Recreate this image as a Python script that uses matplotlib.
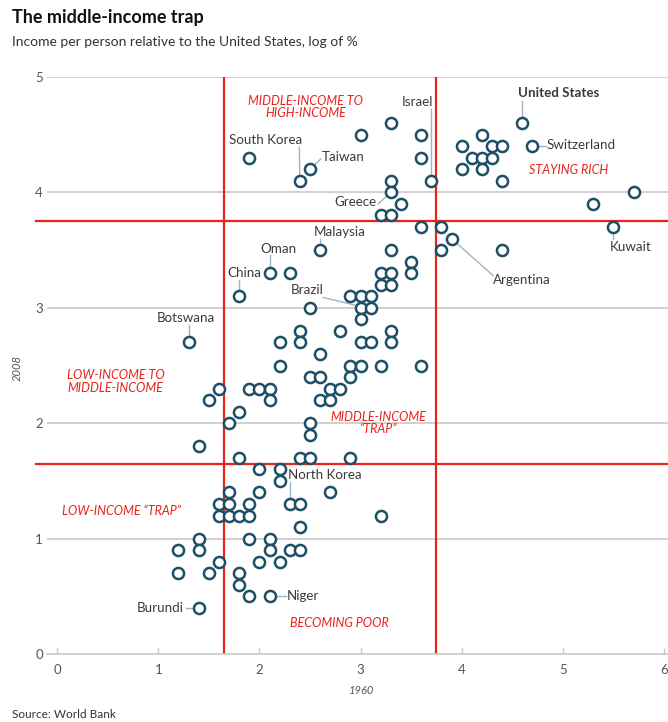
import matplotlib
matplotlib.use('Agg')
import matplotlib.pyplot as plt

# income per person relative to the US, log of %: 1960 (x) vs 2008 (y)
x1960 = [3.3, 3.0, 3.6, 3.6, 3.7, 3.3, 3.3, 3.4, 3.2, 3.3, 3.6, 3.8, 3.9, 3.8, 3.3, 4.4,
         3.5, 3.5, 3.2, 3.3, 3.2, 3.3, 2.9, 3.0, 3.1,
         4.6, 4.2, 4.0, 4.3, 4.4, 4.7, 4.1, 4.2, 4.3, 4.0, 4.2, 4.4, 5.7, 5.3, 5.5,
         1.9, 2.4, 2.5,
         2.6, 2.1, 2.3, 1.8, 1.3, 2.5, 3.0, 3.1, 3.0, 2.4, 2.4, 2.8, 3.3, 3.3, 2.2,
         3.0, 3.1, 2.6, 2.2, 2.9, 3.0, 3.2, 3.6, 2.5, 2.6, 2.9, 1.6, 1.5, 1.9, 2.0,
         2.1, 2.1, 2.7, 2.8, 2.6, 2.7, 1.8,
         1.7, 2.5, 2.5, 1.4, 1.8, 2.4, 2.5, 2.9, 2.0, 2.2, 2.2, 1.7, 2.0, 2.7, 1.6,
         1.7, 1.9, 2.3, 2.4, 1.6, 1.7, 1.8, 1.9, 3.2, 2.4, 1.4, 1.4, 1.9, 2.1, 2.1,
         2.3, 2.4, 1.2, 1.6, 2.0, 2.2, 1.2, 1.5, 1.8, 1.8, 1.9, 2.1, 1.4]
y2008 = [4.6, 4.5, 4.5, 4.3, 4.1, 4.1, 4.0, 3.9, 3.8, 3.8, 3.7, 3.7, 3.6, 3.5, 3.5, 3.5,
         3.4, 3.3, 3.3, 3.3, 3.2, 3.2, 3.1, 3.1, 3.1,
         4.6, 4.5, 4.4, 4.4, 4.4, 4.4, 4.3, 4.3, 4.3, 4.2, 4.2, 4.1, 4.0, 3.9, 3.7,
         4.3, 4.1, 4.2,
         3.5, 3.3, 3.3, 3.1, 2.7, 3.0, 3.0, 3.0, 2.9, 2.8, 2.7, 2.8, 2.8, 2.7, 2.7,
         2.7, 2.7, 2.6, 2.5, 2.5, 2.5, 2.5, 2.5, 2.4, 2.4, 2.4, 2.3, 2.2, 2.3, 2.3,
         2.3, 2.2, 2.3, 2.3, 2.2, 2.2, 2.1,
         2.0, 2.0, 1.9, 1.8, 1.7, 1.7, 1.7, 1.7, 1.6, 1.6, 1.5, 1.4, 1.4, 1.4, 1.3,
         1.3, 1.3, 1.3, 1.3, 1.2, 1.2, 1.2, 1.2, 1.2, 1.1, 1.0, 0.9, 1.0, 1.0, 0.9,
         0.9, 0.9, 0.9, 0.8, 0.8, 0.8, 0.7, 0.7, 0.7, 0.6, 0.5, 0.5, 0.4]

# thresholds for the quadrants
low_line = 1.65
high_line = 3.75

# labelled countries and the point each label belongs to
countries = ['United States', 'Israel', 'Switzerland', 'Kuwait', 'Argentina', 'Greece',
             'Malaysia', 'Oman', 'China', 'Botswana', 'Brazil', 'South Korea', 'Taiwan',
             'North Korea', 'Niger', 'Burundi']
cpoint = [(4.6, 4.6), (3.7, 4.1), (4.7, 4.4), (5.5, 3.7), (3.9, 3.6), (3.3, 4.0),
          (2.6, 3.5), (2.1, 3.3), (1.8, 3.1), (1.3, 2.7), (3.0, 3.0), (2.4, 4.1),
          (2.5, 4.2), (2.3, 1.3), (2.1, 0.5), (1.4, 0.4)]
quad_text = ['MIDDLE-INCOME TO\nHIGH-INCOME', 'STAYING RICH', 'LOW-INCOME TO\nMIDDLE-INCOME',
             'MIDDLE-INCOME\n\u201cTRAP\u201d', 'LOW-INCOME \u201cTRAP\u201d', 'BECOMING POOR']

RED = '#e8221c'
GRID = '#c9c9c9'
DOT = '#1d4f66'
LEAD = '#9ab6c6'
TXT = '#3a3a3a'
plt.rcParams['font.family'] = ['Lato', 'DejaVu Sans']

W, H = 668, 722
fig = plt.figure(figsize=(W/100, H/100), dpi=100)
fig.patch.set_facecolor('white')

# axes placed in pixels: x=-0.1 at 47px, x=6.04 at 668px; y 0..5 from 654px to 77px
ax = fig.add_axes([47/W, (H-654)/H, 621/W, 577/H])
ax.set_xlim(-0.1, 6.04)
ax.set_ylim(0, 5)
for s in ['top', 'right', 'left']:
    ax.spines[s].set_visible(False)
ax.spines['bottom'].set_color(GRID)
ax.spines['bottom'].set_linewidth(1.2)

for yy in range(1, 6):
    ax.axhline(yy, color=GRID, lw=1.2, zorder=1)
ax.set_yticks(range(0, 6))
ax.set_xticks(range(0, 7))
ax.tick_params(axis='y', length=0, pad=3, labelsize=9.5, labelcolor='#555555')
ax.tick_params(axis='x', direction='in', length=4, width=1, color=GRID, pad=7,
               labelsize=9.5, labelcolor='#555555')

# quadrant lines
ax.plot([low_line, low_line], [0, 5], color=RED, lw=1.6, zorder=2)
ax.plot([high_line, high_line], [0, 5], color=RED, lw=1.6, zorder=2)
ax.plot([-0.21, 6.04], [high_line, high_line], color=RED, lw=1.6, zorder=2, clip_on=False)
ax.plot([-0.21, 6.04], [low_line, low_line], color=RED, lw=1.6, zorder=2, clip_on=False)

ax.plot(x1960, y2008, 'o', ms=8, mfc='white', mec=DOT, mew=1.8, zorder=4, clip_on=False)

# quadrant labels
qkw = dict(color=RED, fontsize=9, style='italic', zorder=3, linespacing=1.05)
ax.text(2.46, 4.74, quad_text[0], ha='center', va='center', **qkw)
ax.text(5.06, 4.19, quad_text[1], ha='center', va='center', **qkw)
ax.text(0.1, 2.36, quad_text[2], ha='left', va='center', **qkw)
ax.text(3.18, 2.0, quad_text[3], ha='center', va='center', **qkw)
ax.text(0.64, 1.24, quad_text[4], ha='center', va='center', **qkw)
ax.text(2.79, 0.27, quad_text[5], ha='center', va='center', **qkw)

# country labels with leader lines
lkw = dict(color=TXT, fontsize=9.6, va='center', zorder=5)
def lead(x0, y0, x1, y1):
    ax.plot([x0, x1], [y0, y1], color=LEAD, lw=1, zorder=3)

us = cpoint[0]
ax.text(4.56, 4.86, countries[0], ha='left', fontweight='bold', **lkw)
lead(us[0], 4.79, us[0], us[1])
ax.text(3.72, 4.78, countries[1], ha='right', **lkw)
lead(3.7, 4.72, 3.7, cpoint[1][1])
ax.text(4.84, 4.41, countries[2], ha='left', **lkw)
lead(4.7, 4.4, 4.83, 4.4)
ax.text(5.46, 3.53, countries[3], ha='left', **lkw)
lead(5.5, 3.7, 5.5, 3.6)
ax.text(4.31, 3.24, countries[4], ha='left', **lkw)
lead(3.95, 3.56, 4.31, 3.28)
ax.text(3.16, 3.92, countries[5], ha='right', **lkw)
lead(3.175, 3.9, cpoint[5][0], cpoint[5][1])
ax.text(2.54, 3.66, countries[6], ha='left', **lkw)
lead(2.6, 3.6, 2.6, 3.5)
ax.text(2.01, 3.51, countries[7], ha='left', **lkw)
lead(2.1, 3.46, 2.1, 3.3)
ax.text(1.68, 3.30, countries[8], ha='left', **lkw)
lead(1.8, 3.24, 1.8, 3.1)
ax.text(0.985, 2.91, countries[9], ha='left', **lkw)
lead(1.3, 2.85, 1.3, 2.7)
ax.text(2.31, 3.15, countries[10], ha='left', **lkw)
lead(2.63, 3.09, 2.96, 3.02)
ax.text(1.70, 4.45, countries[11], ha='left', **lkw)
lead(2.395, 4.39, 2.4, 4.1)
ax.text(2.615, 4.31, countries[12], ha='left', **lkw)
lead(2.5, 4.2, 2.605, 4.29)
ax.text(2.285, 1.55, countries[13], ha='left', **lkw)
lead(2.3, 1.49, 2.3, 1.3)
ax.text(2.27, 0.5, countries[14], ha='left', **lkw)
lead(2.1, 0.5, 2.26, 0.5)
ax.text(1.255, 0.4, countries[15], ha='right', **lkw)
lead(1.27, 0.4, 1.4, 0.4)

# titles and axis names
fig.text(12/W, 1 - 17/H, 'The middle-income trap', fontsize=13, fontweight='bold',
         color='#111111', ha='left', va='center')
fig.text(12/W, 1 - 42/H, 'Income per person relative to the United States, log of %',
         fontsize=10, color='#333333', ha='left', va='center')
fig.text(362/W, 1 - 690/H, '1960', fontsize=8, style='italic', color='#555555',
         ha='center', va='center')
fig.text(17/W, 1 - 368/H, '2008', fontsize=8, style='italic', color='#555555',
         ha='center', va='center', rotation=90)
fig.text(12/W, 1 - 715/H, 'Source: World Bank', fontsize=8.5, color='#333333',
         ha='left', va='center')

fig.savefig('out.png', dpi=100)
